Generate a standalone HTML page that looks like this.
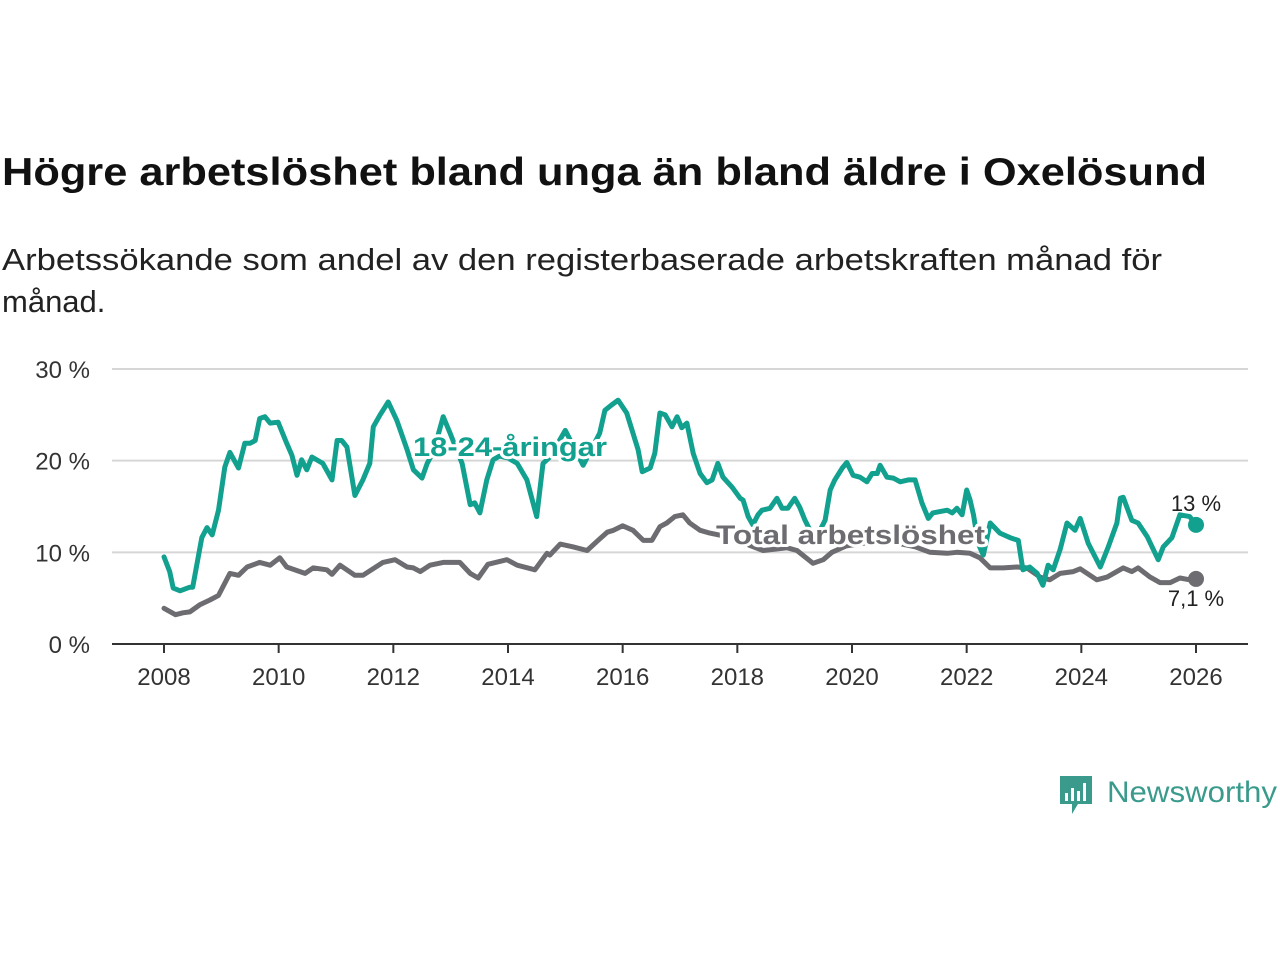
<!DOCTYPE html>
<html><head><meta charset="utf-8"><style>
html,body{margin:0;padding:0;background:#fff;}
svg{display:block;font-family:"Liberation Sans","DejaVu Sans",sans-serif;}
</style></head><body>
<svg id="chart" width="1280" height="960" viewBox="0 0 1280 960">
<text x="2" y="185" font-size="39" font-weight="bold" fill="#111" textLength="1205" lengthAdjust="spacingAndGlyphs">Högre arbetslöshet bland unga än bland äldre i Oxelösund</text>
<text x="2" y="270" font-size="31" fill="#222" textLength="1160" lengthAdjust="spacingAndGlyphs">Arbetssökande som andel av den registerbaserade arbetskraften månad för</text>
<text x="2" y="312" font-size="31" fill="#222">månad.</text>
<g id="grid"></g>
<g id="axes"></g>
<g id="series"></g>
<g id="labels"></g>
<g>
<path d="M1060 776h32v28h-14l-6 10v-10h-12z" fill="#3a9a8c"/>
<rect x="1065" y="793" width="3" height="8" fill="#fff"/><rect x="1071" y="788" width="3" height="13" fill="#fff"/><rect x="1077" y="791" width="3" height="10" fill="#fff"/><rect x="1083" y="783" width="3" height="18" fill="#fff"/>
<text x="1107" y="802" font-size="30" fill="#3a9a8c" textLength="170" lengthAdjust="spacingAndGlyphs">Newsworthy</text>
</g>
</svg>
<script>
const yTicks=[0,10,20,30];
const xTicks=[2008,2010,2012,2014,2016,2018,2020,2022,2024,2026];
const youthYears=[2008.0,2008.1,2008.16,2008.28,2008.45,2008.5,2008.66,2008.75,2008.84,2008.95,2009.06,2009.15,2009.3,2009.41,2009.5,2009.59,2009.67,2009.76,2009.85,2009.99,2010.14,2010.23,2010.32,2010.4,2010.49,2010.58,2010.77,2010.93,2011.02,2011.1,2011.19,2011.33,2011.47,2011.59,2011.65,2011.77,2011.91,2012.06,2012.24,2012.35,2012.5,2012.59,2012.7,2012.87,2012.99,2013.2,2013.34,2013.42,2013.51,2013.63,2013.74,2013.85,2014.0,2014.16,2014.33,2014.5,2014.61,2014.73,2015.0,2015.31,2015.6,2015.69,2015.81,2015.92,2016.07,2016.18,2016.27,2016.34,2016.48,2016.56,2016.65,2016.74,2016.86,2016.95,2017.03,2017.12,2017.23,2017.35,2017.47,2017.56,2017.66,2017.75,2017.91,2018.05,2018.1,2018.19,2018.27,2018.36,2018.43,2018.57,2018.69,2018.78,2018.88,2019.0,2019.09,2019.18,2019.3,2019.45,2019.53,2019.62,2019.7,2019.83,2019.91,2020.02,2020.14,2020.26,2020.35,2020.44,2020.49,2020.61,2020.72,2020.84,2020.98,2021.1,2021.22,2021.33,2021.41,2021.66,2021.75,2021.83,2021.92,2022.0,2022.06,2022.12,2022.2,2022.29,2022.41,2022.58,2022.76,2022.9,2022.98,2023.1,2023.23,2023.33,2023.42,2023.51,2023.63,2023.75,2023.89,2023.98,2024.12,2024.33,2024.47,2024.62,2024.68,2024.73,2024.88,2024.99,2025.15,2025.34,2025.43,2025.58,2025.72,2025.89,2026.0];
const youthValues=[9.5,7.9,6.1,5.8,6.2,6.2,11.6,12.7,11.9,14.6,19.3,20.9,19.2,21.9,21.9,22.2,24.6,24.8,24.1,24.2,21.9,20.6,18.4,20.1,19,20.4,19.7,17.9,22.2,22.2,21.5,16.2,17.9,19.7,23.7,25,26.4,24.4,21.2,19,18.1,19.7,21,24.8,23,19.7,15.2,15.4,14.3,17.9,20.1,20.5,20.3,19.7,17.9,13.9,19.7,20.4,23.3,19.5,23,25.5,26.1,26.6,25.2,23,21.2,18.8,19.2,20.8,25.2,25,23.7,24.8,23.6,24.1,20.8,18.6,17.6,17.9,19.7,18.2,17.1,15.9,15.7,13.9,13,14.1,14.6,14.8,15.9,14.8,14.8,15.9,14.9,13.5,12,12.5,13.5,16.8,17.9,19.2,19.8,18.4,18.2,17.7,18.6,18.6,19.5,18.2,18.1,17.7,17.9,17.9,15.4,13.7,14.3,14.6,14.3,14.8,14.1,16.8,15.7,14.1,11,9.7,13.2,12.1,11.6,11.3,8.1,8.4,7.7,6.4,8.6,8.1,10.3,13.2,12.4,13.7,11,8.4,10.6,13.2,15.9,16,13.5,13.2,11.7,9.2,10.6,11.6,14.1,13.9,13];
const totalYears=[2008.0,2008.2,2008.33,2008.45,2008.63,2008.8,2008.95,2009.15,2009.3,2009.45,2009.67,2009.85,2010.02,2010.14,2010.46,2010.6,2010.84,2010.93,2011.07,2011.33,2011.47,2011.82,2012.03,2012.24,2012.35,2012.47,2012.64,2012.87,2013.16,2013.34,2013.48,2013.65,2013.98,2014.16,2014.47,2014.68,2014.73,2014.91,2015.13,2015.38,2015.57,2015.73,2015.84,2016.0,2016.18,2016.36,2016.51,2016.65,2016.77,2016.91,2017.05,2017.17,2017.35,2017.52,2017.75,2018.0,2018.2,2018.45,2018.87,2019.04,2019.32,2019.5,2019.65,2019.9,2020.2,2020.5,2020.8,2021.1,2021.36,2021.66,2021.83,2022.06,2022.23,2022.41,2022.64,2022.88,2023.05,2023.28,2023.45,2023.63,2023.86,2023.98,2024.27,2024.45,2024.73,2024.88,2024.99,2025.2,2025.37,2025.55,2025.72,2025.89,2026.0];
const totalValues=[3.9,3.2,3.4,3.5,4.3,4.8,5.3,7.7,7.5,8.4,8.9,8.6,9.4,8.4,7.7,8.3,8.1,7.6,8.6,7.5,7.5,8.9,9.2,8.4,8.3,7.9,8.6,8.9,8.9,7.7,7.2,8.7,9.2,8.6,8.1,9.9,9.7,10.9,10.6,10.2,11.3,12.2,12.4,12.9,12.4,11.3,11.3,12.8,13.2,13.9,14.1,13.2,12.4,12.1,11.8,11.5,10.8,10.2,10.5,10.2,8.8,9.2,10,10.7,11,11.3,11,10.6,10,9.9,10,9.9,9.4,8.3,8.3,8.4,8.3,7.3,7.0,7.7,7.9,8.2,7.0,7.3,8.3,7.9,8.3,7.3,6.7,6.7,7.2,7.0,7.1];
const NS='http://www.w3.org/2000/svg';
const X=y=>164+(y-2008)*(1196-164)/18;
const Y=v=>644-v*(644-369)/30;
function mk(tag,attrs,parent){const e=document.createElementNS(NS,tag);for(const k in attrs)e.setAttribute(k,attrs[k]);parent.appendChild(e);return e;}
const grid=document.getElementById('grid'),axes=document.getElementById('axes'),ser=document.getElementById('series'),lab=document.getElementById('labels');
yTicks.forEach(t=>{
 if(t>0){const l=mk('line',{x1:112,x2:1248,y1:Y(t),y2:Y(t),stroke:'#d6d6d6','stroke-width':2},grid);
 
 }
 const tx=mk('text',{x:90,y:Y(t)+9,'font-size':24,fill:'#333','text-anchor':'end'},axes);tx.textContent=t+' %';
 
 
});
const ax=mk('line',{x1:112,x2:1248,y1:644,y2:644,stroke:'#333','stroke-width':2},axes);


xTicks.forEach(t=>{
 const tk=mk('line',{x1:X(t),x2:X(t),y1:644,y2:653,stroke:'#333','stroke-width':2},axes);
 
 
 const tx=mk('text',{x:X(t),y:685,'font-size':24,fill:'#333','text-anchor':'middle'},axes);tx.textContent=t;
 
 
});
function line(xs,vs,color,name){
 const d=xs.map((x,i)=>(i?'L':'M')+X(x).toFixed(1)+' '+Y(vs[i]).toFixed(1)).join('');
 const p=mk('path',{d:d,fill:'none',stroke:color,'stroke-width':5,'stroke-linejoin':'round','stroke-linecap':'round'},ser);
 
 
 const n=xs.length-1;
 const c=mk('circle',{cx:X(xs[n]),cy:Y(vs[n]),r:8,fill:color},ser);
 
 
}
line(totalYears,totalValues,'#6d6c70','total-line');
line(youthYears,youthValues,'#12a08f','youth-line');
function label(txt,x,y,color,size,bold,name,anchor,len){
 const a={x:x,y:y,'font-size':size,fill:color,'font-weight':bold?'bold':'normal','text-anchor':anchor||'start',stroke:'#fff','stroke-width':bold?6:0,'paint-order':'stroke','stroke-linejoin':'round'};
 if(len){a.textLength=len;a.lengthAdjust='spacingAndGlyphs';}
 const t=mk('text',a,lab);
 t.textContent=txt;
 
 
}
label('18-24-åringar',413,456,'#12a08f',27,true,'youth-series-label','start',194);
label('Total arbetslöshet',716,544,'#6d6c70',27,true,'total-series-label','start',269);
label('13 %',X(2026),511,'#222',22,false,'youth-end-value','middle');
label('7,1 %',X(2026),606,'#222',22,false,'total-end-value','middle');
</script>
</body></html>
